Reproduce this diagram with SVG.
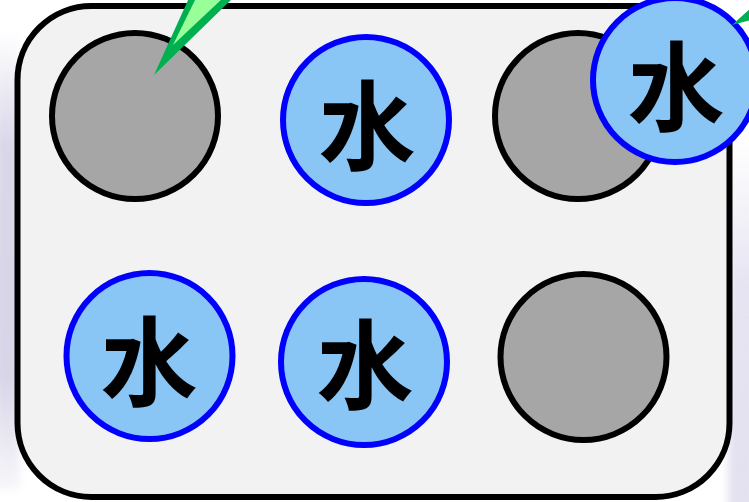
<svg xmlns="http://www.w3.org/2000/svg" width="749" height="502" viewBox="0 0 749 502">
  <defs>
    <linearGradient id="fadeV" x1="0" y1="0" x2="0" y2="1">
      <stop offset="0" stop-color="#d6d3e6" stop-opacity="0"/>
      <stop offset="0.25" stop-color="#d6d3e6" stop-opacity="0.9"/>
      <stop offset="0.75" stop-color="#d3d0e4" stop-opacity="0.9"/>
      <stop offset="1" stop-color="#d6d3e6" stop-opacity="0.2"/>
    </linearGradient>
    <linearGradient id="fadeR" x1="0" y1="0" x2="0" y2="1">
      <stop offset="0" stop-color="#e0ddee" stop-opacity="0"/>
      <stop offset="0.4" stop-color="#e0ddee" stop-opacity="0.8"/>
      <stop offset="1" stop-color="#e3e1f1" stop-opacity="1"/>
    </linearGradient>
    <filter id="soft" x="-50%" y="-10%" width="200%" height="120%">
      <feGaussianBlur stdDeviation="4"/>
    </filter>
    <style>
      .tray { fill: #f2f2f2; stroke: #000; stroke-width: 6; }
      .empty { fill: #a6a6a6; stroke: #000; stroke-width: 6; }
      .water { fill: #8ac6f5; stroke: #0000ff; stroke-width: 6; }
      .lbl { font-family: "Noto Sans CJK SC", "Noto Sans CJK JP", sans-serif; font-weight: bold; font-size: 97px; fill: #000; text-anchor: middle; }
      .dropper { fill: #00b050; }
      .dropper-hi { fill: #99ff99; }
    </style>
  </defs>

  <!-- backdrop -->
  <rect x="0" y="0" width="749" height="502" fill="#ffffff"/>
  <rect x="-6" y="30" width="26" height="460" fill="url(#fadeV)" filter="url(#soft)"/>
  <rect x="728" y="140" width="30" height="370" fill="url(#fadeR)" filter="url(#soft)"/>

  <!-- well plate -->
  <g id="tray">
    <rect class="tray" x="17.5" y="6" width="712" height="491" rx="74" ry="74"/>
  </g>

  <g id="well-1">
    <circle class="empty" cx="135" cy="116" r="83"/>
  </g>
  <g id="well-2">
    <circle class="water" cx="366" cy="120" r="83"/>
    <text class="lbl" x="367" y="162">水</text>
  </g>
  <g id="well-3">
    <circle class="empty" cx="578" cy="116" r="83"/>
  </g>
  <g id="well-4">
    <circle class="water" cx="149.5" cy="356" r="83"/>
    <text class="lbl" x="149" y="398">水</text>
  </g>
  <g id="well-5">
    <circle class="water" cx="364" cy="362" r="83"/>
    <text class="lbl" x="365" y="401">水</text>
  </g>
  <g id="well-6">
    <circle class="empty" cx="583.5" cy="357" r="83"/>
  </g>

  <!-- drop of water held above the plate -->
  <g id="drop">
    <circle class="water" cx="675" cy="80" r="82"/>
    <text class="lbl" x="676" y="123">水</text>
  </g>

  <!-- pipette tips -->
  <g id="connectors">
    <polygon class="dropper" points="154,75 189,-2 233,-2"/>
    <polygon class="dropper-hi" points="173,45 196,-2 223,-2"/>
    <polygon class="dropper" points="732,25 751,8 751,20"/>
  </g>
</svg>
